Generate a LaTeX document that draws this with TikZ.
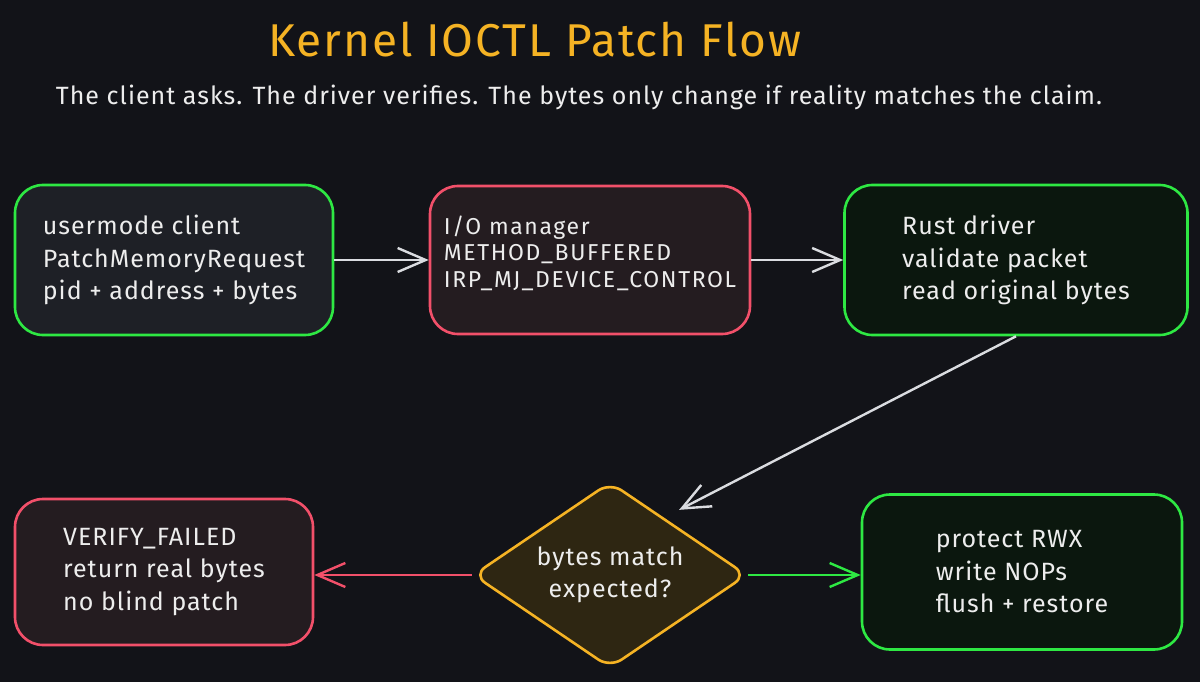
\documentclass[tikz,border=0pt]{standalone}
\usepackage{fontspec}
\setmainfont{Fira Sans}[LetterSpace=4]
\newfontfamily\widesketch{Fira Sans}[LetterSpace=7]
\usepackage{xcolor}
\usetikzlibrary{shapes.geometric, arrows.meta, positioning}

\definecolor{canvas}{HTML}{121318}
\definecolor{ink}{HTML}{EDEDED}
\definecolor{edge}{HTML}{DADCE0}
\definecolor{okgreen}{HTML}{2EE843}
\definecolor{okfill}{HTML}{0B170E}
\definecolor{clientfill}{HTML}{1E2026}
\definecolor{badred}{HTML}{F2506A}
\definecolor{badfill}{HTML}{241C20}
\definecolor{warn}{HTML}{F5B324}
\definecolor{warnfill}{HTML}{2E2612}

\begin{document}
\begin{tikzpicture}[
    x=1pt, y=-1pt,
    block/.style={rectangle, rounded corners=28pt, line width=2.6pt, align=left, text=ink, font=\fontsize{25}{32.5}\selectfont},
    okbox/.style={block, draw=okgreen, fill=okfill},
    badbox/.style={block, draw=badred, fill=badfill},
    decision/.style={diamond, draw=warn, fill=warnfill, line width=2.6pt, rounded corners=14pt, aspect=1.47, minimum width=274pt, minimum height=186pt, inner sep=0pt, align=center, text=ink, font=\fontsize{25}{32.5}\selectfont},
    flow/.style={line width=2.4pt, draw=edge, -{Straight Barb[length=28pt,width=24pt]}}
]

% Canvas
\fill[canvas] (0,0) rectangle (1200,682);

% Heading
\node[text=warn, font=\fontsize{46}{52}\selectfont] (heading) at (535,40) {Kernel IOCTL Patch Flow};
\node[text=ink, font=\fontsize{25}{30}\selectfont] (tagline) at (579,97) {The client asks. The driver verifies. The bytes only change if reality matches the claim.};

% Steps
\node[block, draw=okgreen, fill=clientfill, minimum width=318pt, minimum height=150pt] (client) at (174,260) {
    usermode client \\
    PatchMemoryRequest \\
    pid + address + bytes
};

\node[badbox, minimum width=320pt, minimum height=148pt, text depth=17pt, font=\widesketch\fontsize{23}{26.5}\selectfont] (iomgr) at (590,260) {
    I/O manager \\
    METHOD\_BUFFERED \\
    IRP\_MJ\_DEVICE\_CONTROL
};

\node[okbox, minimum width=343pt, minimum height=150pt] (driver) at (1016,260) {
    Rust driver \\
    validate packet \\
    read original bytes
};

\node[decision] (check) at (610,575) {
    bytes match \\
    expected?
};

\node[badbox, minimum width=298pt, minimum height=146pt] (failed) at (164,572) {
    VERIFY\_FAILED \\
    return real bytes \\
    no blind patch
};

\node[okbox, minimum width=320pt, minimum height=155pt] (patch) at (1022,572) {
    protect RWX \\
    write NOPs \\
    flush + restore
};

% Flow
\draw[flow] (client) -- (iomgr);
\draw[flow] (iomgr) -- (driver);
\draw[flow] (driver.south) -- ([yshift=18pt]check.north east);
\draw[flow, draw=badred] (check.west) -- (check.west -| failed.east);
\draw[flow, draw=okgreen] (check.east) -- (check.east -| patch.west);

\end{tikzpicture}
\end{document}
